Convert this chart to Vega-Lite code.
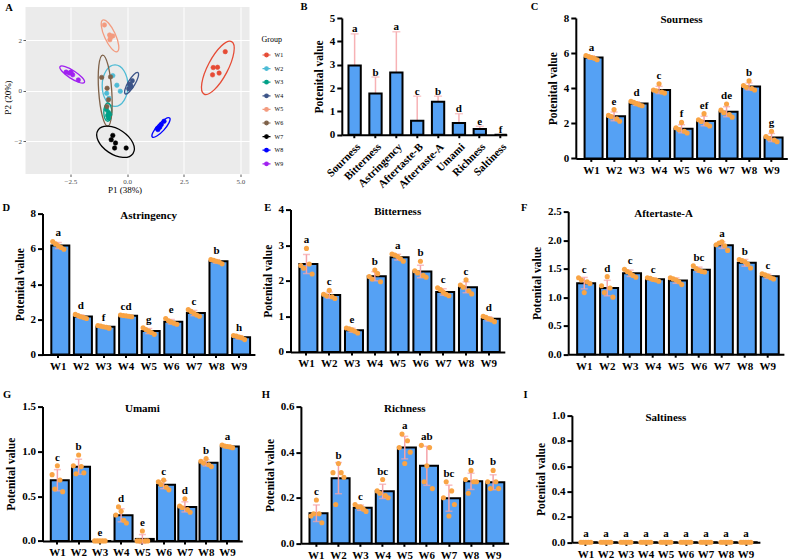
{
  "$schema": "https://vega.github.io/schema/vega-lite/v6.json",
  "background": "white",
  "padding": {"left": 1.5, "top": 1, "right": 0, "bottom": 0},
  "config": {
    "font": "Liberation Serif",
    "view": {"stroke": null},
    "axis": {"domainColor": "#000", "domainWidth": 2, "tickColor": "#000", "tickWidth": 2, "tickSize": 5, "labelColor": "#000", "labelFontSize": 11, "labelFontWeight": "bold", "titleColor": "#000", "titleFontSize": 11.5, "titleFontWeight": "bold", "grid": false, "labelPadding": 2, "titlePadding": 5, "labelOverlap": false},
    "axisX": {"tickSize": 3, "labelAngle": 0, "labelPadding": 3},
    "title": {"anchor": "start", "frame": "group", "fontSize": 10.5, "fontWeight": "bold", "color": "#000", "font": "Liberation Serif"},
    "text": {"font": "Liberation Serif", "color": "#000"}
  },
  "datasets": {
    "pca": [
      {"g": "W1", "x": 4.33, "y": 1.55}, {"g": "W1", "x": 3.80, "y": 0.92}, {"g": "W1", "x": 3.99, "y": 0.93}, {"g": "W1", "x": 3.77, "y": 0.63}, {"g": "W1", "x": 4.06, "y": 0.70},
      {"g": "W2", "x": -0.63, "y": 0.60}, {"g": "W2", "x": -0.45, "y": 0.22}, {"g": "W2", "x": -0.30, "y": -0.02}, {"g": "W2", "x": -0.90, "y": -0.10}, {"g": "W2", "x": -0.80, "y": -0.30},
      {"g": "W3", "x": -0.91, "y": -0.74}, {"g": "W3", "x": -0.82, "y": -0.86}, {"g": "W3", "x": -0.86, "y": -0.98}, {"g": "W3", "x": -0.77, "y": -0.94}, {"g": "W3", "x": -0.82, "y": -1.09},
      {"g": "W4", "x": 0.07, "y": 0.08}, {"g": "W4", "x": 0.15, "y": 0.24}, {"g": "W4", "x": 0.23, "y": 0.40}, {"g": "W4", "x": 0.11, "y": 0.26}, {"g": "W4", "x": 0.18, "y": 0.16},
      {"g": "W5", "x": -1.00, "y": 2.61}, {"g": "W5", "x": -0.77, "y": 2.21}, {"g": "W5", "x": -0.63, "y": 2.17}, {"g": "W5", "x": -0.76, "y": 2.02}, {"g": "W5", "x": -0.73, "y": 2.11},
      {"g": "W6", "x": -1.12, "y": 0.53}, {"g": "W6", "x": -0.73, "y": 0.55}, {"g": "W6", "x": -0.88, "y": 0.10}, {"g": "W6", "x": -0.82, "y": -0.36}, {"g": "W6", "x": -0.89, "y": -0.62},
      {"g": "W7", "x": -0.63, "y": -1.77}, {"g": "W7", "x": -0.70, "y": -1.94}, {"g": "W7", "x": -0.51, "y": -2.07}, {"g": "W7", "x": -0.55, "y": -2.27}, {"g": "W7", "x": -0.04, "y": -2.27},
      {"g": "W8", "x": 1.36, "y": -1.54}, {"g": "W8", "x": 1.44, "y": -1.45}, {"g": "W8", "x": 1.51, "y": -1.34}, {"g": "W8", "x": 1.63, "y": -1.21}, {"g": "W8", "x": 1.34, "y": -1.50},
      {"g": "W9", "x": -2.69, "y": 0.74}, {"g": "W9", "x": -2.47, "y": 0.74}, {"g": "W9", "x": -2.40, "y": 0.63}, {"g": "W9", "x": -2.15, "y": 0.43}, {"g": "W9", "x": -2.55, "y": 0.70}
    ],
    "ell": [
      {"g": "W1", "i": 0, "x": 4.611, "y": 1.950}, {"g": "W1", "i": 1, "x": 4.156, "y": 1.774}, {"g": "W1", "i": 2, "x": 3.612, "y": 1.092}, {"g": "W1", "i": 3, "x": 3.298, "y": 0.302}, {"g": "W1", "i": 4, "x": 3.397, "y": -0.132}, {"g": "W1", "i": 5, "x": 3.852, "y": 0.044}, {"g": "W1", "i": 6, "x": 4.396, "y": 0.727}, {"g": "W1", "i": 7, "x": 4.710, "y": 1.516},
      {"g": "W2", "i": 0, "x": 0.035, "y": 0.202}, {"g": "W2", "i": 1, "x": -0.131, "y": 0.783}, {"g": "W2", "i": 2, "x": -0.531, "y": 1.024}, {"g": "W2", "i": 3, "x": -0.931, "y": 0.783}, {"g": "W2", "i": 4, "x": -1.097, "y": 0.202}, {"g": "W2", "i": 5, "x": -0.931, "y": -0.379}, {"g": "W2", "i": 6, "x": -0.531, "y": -0.620}, {"g": "W2", "i": 7, "x": -0.131, "y": -0.379},
      {"g": "W3", "i": 0, "x": -0.673, "y": -0.850}, {"g": "W3", "i": 1, "x": -0.725, "y": -0.593}, {"g": "W3", "i": 2, "x": -0.850, "y": -0.486}, {"g": "W3", "i": 3, "x": -0.975, "y": -0.593}, {"g": "W3", "i": 4, "x": -1.027, "y": -0.850}, {"g": "W3", "i": 5, "x": -0.975, "y": -1.107}, {"g": "W3", "i": 6, "x": -0.850, "y": -1.214}, {"g": "W3", "i": 7, "x": -0.725, "y": -1.107},
      {"g": "W4", "i": 0, "x": 0.478, "y": 0.722}, {"g": "W4", "i": 1, "x": 0.302, "y": 0.648}, {"g": "W4", "i": 2, "x": 0.066, "y": 0.370}, {"g": "W4", "i": 3, "x": -0.092, "y": 0.051}, {"g": "W4", "i": 4, "x": -0.080, "y": -0.122}, {"g": "W4", "i": 5, "x": 0.096, "y": -0.048}, {"g": "W4", "i": 6, "x": 0.332, "y": 0.230}, {"g": "W4", "i": 7, "x": 0.490, "y": 0.549},
      {"g": "W5", "i": 0, "x": -1.070, "y": 2.805}, {"g": "W5", "i": 1, "x": -1.134, "y": 2.558}, {"g": "W5", "i": 2, "x": -0.974, "y": 2.088}, {"g": "W5", "i": 3, "x": -0.684, "y": 1.671}, {"g": "W5", "i": 4, "x": -0.434, "y": 1.551}, {"g": "W5", "i": 5, "x": -0.370, "y": 1.798}, {"g": "W5", "i": 6, "x": -0.530, "y": 2.268}, {"g": "W5", "i": 7, "x": -0.820, "y": 2.685},
      {"g": "W6", "i": 0, "x": -1.076, "y": 1.416}, {"g": "W6", "i": 1, "x": -1.246, "y": 0.990}, {"g": "W6", "i": 2, "x": -1.252, "y": -0.014}, {"g": "W6", "i": 3, "x": -1.090, "y": -1.007}, {"g": "W6", "i": 4, "x": -0.854, "y": -1.408}, {"g": "W6", "i": 5, "x": -0.684, "y": -0.982}, {"g": "W6", "i": 6, "x": -0.678, "y": 0.022}, {"g": "W6", "i": 7, "x": -0.840, "y": 1.015},
      {"g": "W7", "i": 0, "x": 0.261, "y": -2.488}, {"g": "W7", "i": 1, "x": 0.254, "y": -2.062}, {"g": "W7", "i": 2, "x": -0.200, "y": -1.614}, {"g": "W7", "i": 3, "x": -0.835, "y": -1.406}, {"g": "W7", "i": 4, "x": -1.279, "y": -1.560}, {"g": "W7", "i": 5, "x": -1.272, "y": -1.986}, {"g": "W7", "i": 6, "x": -0.818, "y": -2.434}, {"g": "W7", "i": 7, "x": -0.183, "y": -2.642},
      {"g": "W8", "i": 0, "x": 1.879, "y": -1.082}, {"g": "W8", "i": 1, "x": 1.679, "y": -1.121}, {"g": "W8", "i": 2, "x": 1.372, "y": -1.357}, {"g": "W8", "i": 3, "x": 1.138, "y": -1.652}, {"g": "W8", "i": 4, "x": 1.113, "y": -1.834}, {"g": "W8", "i": 5, "x": 1.313, "y": -1.795}, {"g": "W8", "i": 6, "x": 1.620, "y": -1.559}, {"g": "W8", "i": 7, "x": 1.854, "y": -1.264},
      {"g": "W9", "i": 0, "x": -1.882, "y": 0.328}, {"g": "W9", "i": 1, "x": -1.971, "y": 0.514}, {"g": "W9", "i": 2, "x": -2.323, "y": 0.776}, {"g": "W9", "i": 3, "x": -2.732, "y": 0.961}, {"g": "W9", "i": 4, "x": -2.958, "y": 0.960}, {"g": "W9", "i": 5, "x": -2.869, "y": 0.774}, {"g": "W9", "i": 6, "x": -2.517, "y": 0.512}, {"g": "W9", "i": 7, "x": -2.108, "y": 0.327}
    ],
    "attrs": [
      {"a": "Sourness", "m": 2.97, "hi": 4.32, "l": "a"},
      {"a": "Bitterness", "m": 1.77, "hi": 2.47, "l": "b"},
      {"a": "Astringency", "m": 2.66, "hi": 4.41, "l": "a"},
      {"a": "Aftertaste-B", "m": 0.60, "hi": 1.65, "l": "c"},
      {"a": "Aftertaste-A", "m": 1.41, "hi": 1.65, "l": "b"},
      {"a": "Umami", "m": 0.50, "hi": 0.90, "l": "d"},
      {"a": "Richness", "m": 0.24, "hi": 0.36, "l": "e"},
      {"a": "Saltiness", "m": 0, "hi": 0, "l": "f"}
    ],
    "dC": [
      {"g": "W1", "r": 1, "v": 5.86}, {"g": "W1", "r": 2, "v": 5.80}, {"g": "W1", "r": 3, "v": 5.75}, {"g": "W1", "r": 4, "v": 5.70}, {"g": "W1", "r": 5, "v": 5.62},
      {"g": "W2", "r": 1, "v": 2.45}, {"g": "W2", "r": 2, "v": 2.38}, {"g": "W2", "r": 3, "v": 2.78}, {"g": "W2", "r": 4, "v": 2.25}, {"g": "W2", "r": 5, "v": 2.12},
      {"g": "W3", "r": 1, "v": 3.25}, {"g": "W3", "r": 2, "v": 3.20}, {"g": "W3", "r": 3, "v": 3.12}, {"g": "W3", "r": 4, "v": 3.05}, {"g": "W3", "r": 5, "v": 3.00},
      {"g": "W4", "r": 1, "v": 3.90}, {"g": "W4", "r": 2, "v": 3.85}, {"g": "W4", "r": 3, "v": 4.25}, {"g": "W4", "r": 4, "v": 3.78}, {"g": "W4", "r": 5, "v": 3.72},
      {"g": "W5", "r": 1, "v": 1.75}, {"g": "W5", "r": 2, "v": 1.65}, {"g": "W5", "r": 3, "v": 2.05}, {"g": "W5", "r": 4, "v": 1.55}, {"g": "W5", "r": 5, "v": 1.45},
      {"g": "W6", "r": 1, "v": 2.20}, {"g": "W6", "r": 2, "v": 2.10}, {"g": "W6", "r": 3, "v": 2.55}, {"g": "W6", "r": 4, "v": 1.95}, {"g": "W6", "r": 5, "v": 1.85},
      {"g": "W7", "r": 1, "v": 2.75}, {"g": "W7", "r": 2, "v": 2.60}, {"g": "W7", "r": 3, "v": 3.10}, {"g": "W7", "r": 4, "v": 2.50}, {"g": "W7", "r": 5, "v": 2.35},
      {"g": "W8", "r": 1, "v": 4.15}, {"g": "W8", "r": 2, "v": 4.05}, {"g": "W8", "r": 3, "v": 4.42}, {"g": "W8", "r": 4, "v": 3.98}, {"g": "W8", "r": 5, "v": 3.90},
      {"g": "W9", "r": 1, "v": 1.25}, {"g": "W9", "r": 2, "v": 1.15}, {"g": "W9", "r": 3, "v": 1.55}, {"g": "W9", "r": 4, "v": 1.05}, {"g": "W9", "r": 5, "v": 0.95}
    ],
    "lC": [{"g": "W1", "l": "a"}, {"g": "W2", "l": "e"}, {"g": "W3", "l": "d"}, {"g": "W4", "l": "c"}, {"g": "W5", "l": "f"}, {"g": "W6", "l": "ef"}, {"g": "W7", "l": "de"}, {"g": "W8", "l": "b"}, {"g": "W9", "l": "g"}],
    "dD": [
      {"g": "W1", "r": 1, "v": 6.42}, {"g": "W1", "r": 2, "v": 6.28}, {"g": "W1", "r": 3, "v": 6.18}, {"g": "W1", "r": 4, "v": 6.08}, {"g": "W1", "r": 5, "v": 5.98},
      {"g": "W2", "r": 1, "v": 2.28}, {"g": "W2", "r": 2, "v": 2.22}, {"g": "W2", "r": 3, "v": 2.15}, {"g": "W2", "r": 4, "v": 2.10}, {"g": "W2", "r": 5, "v": 2.05},
      {"g": "W3", "r": 1, "v": 1.65}, {"g": "W3", "r": 2, "v": 1.62}, {"g": "W3", "r": 3, "v": 1.58}, {"g": "W3", "r": 4, "v": 1.55}, {"g": "W3", "r": 5, "v": 1.50},
      {"g": "W4", "r": 1, "v": 2.25}, {"g": "W4", "r": 2, "v": 2.22}, {"g": "W4", "r": 3, "v": 2.20}, {"g": "W4", "r": 4, "v": 2.18}, {"g": "W4", "r": 5, "v": 2.15},
      {"g": "W5", "r": 1, "v": 1.52}, {"g": "W5", "r": 2, "v": 1.42}, {"g": "W5", "r": 3, "v": 1.33}, {"g": "W5", "r": 4, "v": 1.25}, {"g": "W5", "r": 5, "v": 1.15},
      {"g": "W6", "r": 1, "v": 2.05}, {"g": "W6", "r": 2, "v": 1.92}, {"g": "W6", "r": 3, "v": 1.85}, {"g": "W6", "r": 4, "v": 1.78}, {"g": "W6", "r": 5, "v": 1.72},
      {"g": "W7", "r": 1, "v": 2.55}, {"g": "W7", "r": 2, "v": 2.45}, {"g": "W7", "r": 3, "v": 2.35}, {"g": "W7", "r": 4, "v": 2.25}, {"g": "W7", "r": 5, "v": 2.18},
      {"g": "W8", "r": 1, "v": 5.40}, {"g": "W8", "r": 2, "v": 5.35}, {"g": "W8", "r": 3, "v": 5.30}, {"g": "W8", "r": 4, "v": 5.25}, {"g": "W8", "r": 5, "v": 5.15},
      {"g": "W9", "r": 1, "v": 1.08}, {"g": "W9", "r": 2, "v": 1.05}, {"g": "W9", "r": 3, "v": 1.00}, {"g": "W9", "r": 4, "v": 0.95}, {"g": "W9", "r": 5, "v": 0.85}
    ],
    "lD": [{"g": "W1", "l": "a"}, {"g": "W2", "l": "d"}, {"g": "W3", "l": "f"}, {"g": "W4", "l": "cd"}, {"g": "W5", "l": "g"}, {"g": "W6", "l": "e"}, {"g": "W7", "l": "c"}, {"g": "W8", "l": "b"}, {"g": "W9", "l": "h"}],
    "dE": [
      {"g": "W1", "r": 1, "v": 2.43}, {"g": "W1", "r": 2, "v": 2.35}, {"g": "W1", "r": 3, "v": 2.91}, {"g": "W1", "r": 4, "v": 2.47}, {"g": "W1", "r": 5, "v": 2.19},
      {"g": "W2", "r": 1, "v": 1.62}, {"g": "W2", "r": 2, "v": 1.58}, {"g": "W2", "r": 3, "v": 1.73}, {"g": "W2", "r": 4, "v": 1.55}, {"g": "W2", "r": 5, "v": 1.50},
      {"g": "W3", "r": 1, "v": 0.67}, {"g": "W3", "r": 2, "v": 0.65}, {"g": "W3", "r": 3, "v": 0.62}, {"g": "W3", "r": 4, "v": 0.58}, {"g": "W3", "r": 5, "v": 0.53},
      {"g": "W4", "r": 1, "v": 2.12}, {"g": "W4", "r": 2, "v": 2.05}, {"g": "W4", "r": 3, "v": 2.30}, {"g": "W4", "r": 4, "v": 2.20}, {"g": "W4", "r": 5, "v": 1.97},
      {"g": "W5", "r": 1, "v": 2.75}, {"g": "W5", "r": 2, "v": 2.72}, {"g": "W5", "r": 3, "v": 2.68}, {"g": "W5", "r": 4, "v": 2.62}, {"g": "W5", "r": 5, "v": 2.55},
      {"g": "W6", "r": 1, "v": 2.28}, {"g": "W6", "r": 2, "v": 2.22}, {"g": "W6", "r": 3, "v": 2.55}, {"g": "W6", "r": 4, "v": 2.15}, {"g": "W6", "r": 5, "v": 2.10},
      {"g": "W7", "r": 1, "v": 1.80}, {"g": "W7", "r": 2, "v": 1.75}, {"g": "W7", "r": 3, "v": 1.68}, {"g": "W7", "r": 4, "v": 1.62}, {"g": "W7", "r": 5, "v": 1.58},
      {"g": "W8", "r": 1, "v": 1.88}, {"g": "W8", "r": 2, "v": 1.82}, {"g": "W8", "r": 3, "v": 2.03}, {"g": "W8", "r": 4, "v": 1.72}, {"g": "W8", "r": 5, "v": 1.63},
      {"g": "W9", "r": 1, "v": 1.00}, {"g": "W9", "r": 2, "v": 0.97}, {"g": "W9", "r": 3, "v": 0.93}, {"g": "W9", "r": 4, "v": 0.90}, {"g": "W9", "r": 5, "v": 0.85}
    ],
    "lE": [{"g": "W1", "l": "a"}, {"g": "W2", "l": "c"}, {"g": "W3", "l": "e"}, {"g": "W4", "l": "b"}, {"g": "W5", "l": "a"}, {"g": "W6", "l": "b"}, {"g": "W7", "l": "c"}, {"g": "W8", "l": "c"}, {"g": "W9", "l": "d"}],
    "dF": [
      {"g": "W1", "r": 1, "v": 1.34}, {"g": "W1", "r": 2, "v": 1.30}, {"g": "W1", "r": 3, "v": 1.08}, {"g": "W1", "r": 4, "v": 1.27}, {"g": "W1", "r": 5, "v": 1.24},
      {"g": "W2", "r": 1, "v": 1.20}, {"g": "W2", "r": 2, "v": 1.08}, {"g": "W2", "r": 3, "v": 1.36}, {"g": "W2", "r": 4, "v": 1.16}, {"g": "W2", "r": 5, "v": 1.00},
      {"g": "W3", "r": 1, "v": 1.49}, {"g": "W3", "r": 2, "v": 1.45}, {"g": "W3", "r": 3, "v": 1.42}, {"g": "W3", "r": 4, "v": 1.38}, {"g": "W3", "r": 5, "v": 1.35},
      {"g": "W4", "r": 1, "v": 1.34}, {"g": "W4", "r": 2, "v": 1.33}, {"g": "W4", "r": 3, "v": 1.31}, {"g": "W4", "r": 4, "v": 1.30}, {"g": "W4", "r": 5, "v": 1.28},
      {"g": "W5", "r": 1, "v": 1.34}, {"g": "W5", "r": 2, "v": 1.32}, {"g": "W5", "r": 3, "v": 1.30}, {"g": "W5", "r": 4, "v": 1.27}, {"g": "W5", "r": 5, "v": 1.22},
      {"g": "W6", "r": 1, "v": 1.55}, {"g": "W6", "r": 2, "v": 1.50}, {"g": "W6", "r": 3, "v": 1.47}, {"g": "W6", "r": 4, "v": 1.45}, {"g": "W6", "r": 5, "v": 1.44},
      {"g": "W7", "r": 1, "v": 1.92}, {"g": "W7", "r": 2, "v": 1.95}, {"g": "W7", "r": 3, "v": 1.97}, {"g": "W7", "r": 4, "v": 1.90}, {"g": "W7", "r": 5, "v": 1.82},
      {"g": "W8", "r": 1, "v": 1.66}, {"g": "W8", "r": 2, "v": 1.64}, {"g": "W8", "r": 3, "v": 1.62}, {"g": "W8", "r": 4, "v": 1.58}, {"g": "W8", "r": 5, "v": 1.51},
      {"g": "W9", "r": 1, "v": 1.41}, {"g": "W9", "r": 2, "v": 1.39}, {"g": "W9", "r": 3, "v": 1.37}, {"g": "W9", "r": 4, "v": 1.34}, {"g": "W9", "r": 5, "v": 1.32}
    ],
    "lF": [{"g": "W1", "l": "c"}, {"g": "W2", "l": "d"}, {"g": "W3", "l": "c"}, {"g": "W4", "l": "c"}, {"g": "W5", "l": ""}, {"g": "W6", "l": "bc"}, {"g": "W7", "l": "a"}, {"g": "W8", "l": "b"}, {"g": "W9", "l": "c"}],
    "dG": [
      {"g": "W1", "r": 1, "v": 0.74}, {"g": "W1", "r": 2, "v": 0.58}, {"g": "W1", "r": 3, "v": 0.84}, {"g": "W1", "r": 4, "v": 0.68}, {"g": "W1", "r": 5, "v": 0.55},
      {"g": "W2", "r": 1, "v": 0.84}, {"g": "W2", "r": 2, "v": 0.75}, {"g": "W2", "r": 3, "v": 0.96}, {"g": "W2", "r": 4, "v": 0.83}, {"g": "W2", "r": 5, "v": 0.76},
      {"g": "W3", "r": 1, "v": 0}, {"g": "W3", "r": 2, "v": 0}, {"g": "W3", "r": 3, "v": 0}, {"g": "W3", "r": 4, "v": 0}, {"g": "W3", "r": 5, "v": 0},
      {"g": "W4", "r": 1, "v": 0.29}, {"g": "W4", "r": 2, "v": 0.38}, {"g": "W4", "r": 3, "v": 0.33}, {"g": "W4", "r": 4, "v": 0.23}, {"g": "W4", "r": 5, "v": 0.20},
      {"g": "W5", "r": 1, "v": 0}, {"g": "W5", "r": 2, "v": 0}, {"g": "W5", "r": 3, "v": 0.11}, {"g": "W5", "r": 4, "v": 0}, {"g": "W5", "r": 5, "v": 0},
      {"g": "W6", "r": 1, "v": 0.66}, {"g": "W6", "r": 2, "v": 0.63}, {"g": "W6", "r": 3, "v": 0.68}, {"g": "W6", "r": 4, "v": 0.60}, {"g": "W6", "r": 5, "v": 0.57},
      {"g": "W7", "r": 1, "v": 0.39}, {"g": "W7", "r": 2, "v": 0.37}, {"g": "W7", "r": 3, "v": 0.47}, {"g": "W7", "r": 4, "v": 0.35}, {"g": "W7", "r": 5, "v": 0.32},
      {"g": "W8", "r": 1, "v": 0.89}, {"g": "W8", "r": 2, "v": 0.87}, {"g": "W8", "r": 3, "v": 0.92}, {"g": "W8", "r": 4, "v": 0.85}, {"g": "W8", "r": 5, "v": 0.83},
      {"g": "W9", "r": 1, "v": 1.07}, {"g": "W9", "r": 2, "v": 1.06}, {"g": "W9", "r": 3, "v": 1.055}, {"g": "W9", "r": 4, "v": 1.05}, {"g": "W9", "r": 5, "v": 1.04}
    ],
    "lG": [{"g": "W1", "l": "c"}, {"g": "W2", "l": "b"}, {"g": "W3", "l": "e"}, {"g": "W4", "l": "d"}, {"g": "W5", "l": "e"}, {"g": "W6", "l": "c"}, {"g": "W7", "l": "d"}, {"g": "W8", "l": "b"}, {"g": "W9", "l": "a"}],
    "dH": [
      {"g": "W1", "r": 1, "v": 0.12}, {"g": "W1", "r": 2, "v": 0.13}, {"g": "W1", "r": 3, "v": 0.19}, {"g": "W1", "r": 4, "v": 0.13}, {"g": "W1", "r": 5, "v": 0.09},
      {"g": "W2", "r": 1, "v": 0.31}, {"g": "W2", "r": 2, "v": 0.17}, {"g": "W2", "r": 3, "v": 0.35}, {"g": "W2", "r": 4, "v": 0.31}, {"g": "W2", "r": 5, "v": 0.29},
      {"g": "W3", "r": 1, "v": 0.17}, {"g": "W3", "r": 2, "v": 0.16}, {"g": "W3", "r": 3, "v": 0.16}, {"g": "W3", "r": 4, "v": 0.15}, {"g": "W3", "r": 5, "v": 0.14},
      {"g": "W4", "r": 1, "v": 0.23}, {"g": "W4", "r": 2, "v": 0.22}, {"g": "W4", "r": 3, "v": 0.28}, {"g": "W4", "r": 4, "v": 0.21}, {"g": "W4", "r": 5, "v": 0.20},
      {"g": "W5", "r": 1, "v": 0.42}, {"g": "W5", "r": 2, "v": 0.48}, {"g": "W5", "r": 3, "v": 0.35}, {"g": "W5", "r": 4, "v": 0.45}, {"g": "W5", "r": 5, "v": 0.40},
      {"g": "W6", "r": 1, "v": 0.43}, {"g": "W6", "r": 2, "v": 0.27}, {"g": "W6", "r": 3, "v": 0.34}, {"g": "W6", "r": 4, "v": 0.42}, {"g": "W6", "r": 5, "v": 0.24},
      {"g": "W7", "r": 1, "v": 0.20}, {"g": "W7", "r": 2, "v": 0.27}, {"g": "W7", "r": 3, "v": 0.12}, {"g": "W7", "r": 4, "v": 0.23}, {"g": "W7", "r": 5, "v": 0.17},
      {"g": "W8", "r": 1, "v": 0.28}, {"g": "W8", "r": 2, "v": 0.22}, {"g": "W8", "r": 3, "v": 0.32}, {"g": "W8", "r": 4, "v": 0.27}, {"g": "W8", "r": 5, "v": 0.27},
      {"g": "W9", "r": 1, "v": 0.27}, {"g": "W9", "r": 2, "v": 0.24}, {"g": "W9", "r": 3, "v": 0.32}, {"g": "W9", "r": 4, "v": 0.27}, {"g": "W9", "r": 5, "v": 0.24}
    ],
    "lH": [{"g": "W1", "l": "c"}, {"g": "W2", "l": "b"}, {"g": "W3", "l": "c"}, {"g": "W4", "l": "bc"}, {"g": "W5", "l": "a"}, {"g": "W6", "l": "ab"}, {"g": "W7", "l": "bc"}, {"g": "W8", "l": "b"}, {"g": "W9", "l": "b"}],
    "dI": [
      {"g": "W1", "r": 1, "v": 0}, {"g": "W1", "r": 2, "v": 0}, {"g": "W1", "r": 3, "v": 0}, {"g": "W1", "r": 4, "v": 0}, {"g": "W1", "r": 5, "v": 0},
      {"g": "W2", "r": 1, "v": 0}, {"g": "W2", "r": 2, "v": 0}, {"g": "W2", "r": 3, "v": 0}, {"g": "W2", "r": 4, "v": 0}, {"g": "W2", "r": 5, "v": 0},
      {"g": "W3", "r": 1, "v": 0}, {"g": "W3", "r": 2, "v": 0}, {"g": "W3", "r": 3, "v": 0}, {"g": "W3", "r": 4, "v": 0}, {"g": "W3", "r": 5, "v": 0},
      {"g": "W4", "r": 1, "v": 0}, {"g": "W4", "r": 2, "v": 0}, {"g": "W4", "r": 3, "v": 0}, {"g": "W4", "r": 4, "v": 0}, {"g": "W4", "r": 5, "v": 0},
      {"g": "W5", "r": 1, "v": 0}, {"g": "W5", "r": 2, "v": 0}, {"g": "W5", "r": 3, "v": 0}, {"g": "W5", "r": 4, "v": 0}, {"g": "W5", "r": 5, "v": 0},
      {"g": "W6", "r": 1, "v": 0}, {"g": "W6", "r": 2, "v": 0}, {"g": "W6", "r": 3, "v": 0}, {"g": "W6", "r": 4, "v": 0}, {"g": "W6", "r": 5, "v": 0},
      {"g": "W7", "r": 1, "v": 0}, {"g": "W7", "r": 2, "v": 0}, {"g": "W7", "r": 3, "v": 0}, {"g": "W7", "r": 4, "v": 0}, {"g": "W7", "r": 5, "v": 0},
      {"g": "W8", "r": 1, "v": 0}, {"g": "W8", "r": 2, "v": 0}, {"g": "W8", "r": 3, "v": 0}, {"g": "W8", "r": 4, "v": 0}, {"g": "W8", "r": 5, "v": 0},
      {"g": "W9", "r": 1, "v": 0}, {"g": "W9", "r": 2, "v": 0}, {"g": "W9", "r": 3, "v": 0}, {"g": "W9", "r": 4, "v": 0}, {"g": "W9", "r": 5, "v": 0}
    ],
    "lI": [{"g": "W1", "l": "a"}, {"g": "W2", "l": "a"}, {"g": "W3", "l": "a"}, {"g": "W4", "l": "a"}, {"g": "W5", "l": "a"}, {"g": "W6", "l": "a"}, {"g": "W7", "l": "a"}, {"g": "W8", "l": "a"}, {"g": "W9", "l": "a"}]
  },
  "spacing": 6.6,
  "resolve": {"scale": {"x": "independent", "y": "independent", "xOffset": "independent", "fill": "independent", "stroke": "independent"}, "legend": {"fill": "independent", "stroke": "independent"}},
  "vconcat": [
    {
      "spacing": 0,
      "resolve": {"legend": {"fill": "independent", "stroke": "independent"}},
      "hconcat": [
        {"width": 0.01, "height": 0.01, "data": {"values": []}, "mark": "point"},
        {
          "spacing": 16.3,
          "resolve": {"legend": {"fill": "independent", "stroke": "independent"}},
          "hconcat": [
            {
              "spacing": 0,
              "resolve": {"legend": {"fill": "independent", "stroke": "independent"}},
              "vconcat": [
                {"width": 0.01, "height": 0.01, "data": {"values": []}, "mark": "point"},
                {
                  "title": {"text": "A", "dx": -20.3, "offset": -6.3},
                  "width": 224, "height": 167,
                  "view": {"fill": "#EBEBEB", "stroke": null},
                  "encoding": {
                    "x": {"field": "x", "type": "quantitative", "scale": {"domain": [-4.48, 5.4], "nice": false, "zero": false},
                          "axis": {"title": "P1 (38%)", "titleX": 99, "values": [-2.5, 0, 2.5, 5], "format": ".1f", "domain": false, "tickColor": "#333333", "tickWidth": 0.8, "tickSize": 2.5, "labelColor": "#4D4D4D", "labelFontSize": 7, "labelFontWeight": "normal", "labelPadding": 0.5, "titleFontSize": 9, "titleFontWeight": "normal", "titlePadding": 1.5, "grid": true, "gridColor": "#FFFFFF", "gridWidth": 1}},
                    "y": {"field": "y", "type": "quantitative", "scale": {"domain": [-3.3, 3.32], "nice": false, "zero": false},
                          "axis": {"title": "P2 (20%)", "titleY": 90, "values": [-2, 0, 2], "format": "d", "domain": false, "tickColor": "#333333", "tickWidth": 0.8, "tickSize": 2.5, "labelColor": "#4D4D4D", "labelFontSize": 7, "labelFontWeight": "normal", "labelPadding": 1.5, "titleFontSize": 9, "titleFontWeight": "normal", "titlePadding": 2, "grid": true, "gridColor": "#FFFFFF", "gridWidth": 1}}
                  },
                  "layer": [
                    {"data": {"values": [{}]}, "mark": {"type": "rule", "color": "#000", "strokeWidth": 1.3, "strokeDash": [1.2, 2.6]}, "encoding": {"x": {"datum": 0}, "y": null}},
                    {"data": {"values": [{}]}, "mark": {"type": "rule", "color": "#000", "strokeWidth": 1.3, "strokeDash": [1.2, 2.6]}, "encoding": {"y": {"datum": 0}, "x": null}},
                    {"data": {"name": "ell"}, "mark": {"type": "line", "interpolate": "cardinal-closed", "strokeWidth": 1.3},
                     "encoding": {
                       "stroke": {"field": "g", "type": "nominal", "scale": {"domain": ["W1","W2","W3","W4","W5","W6","W7","W8","W9"], "range": ["#E64B35","#4DBBD5","#00A087","#3C5488","#F39B7F","#7E6148","#000000","#0000FF","#A020F0"]},
                                  "legend": {"orient": "none", "legendX": 236, "legendY": 29, "title": "Group", "titleFontSize": 8, "titleFontWeight": "normal", "titleFont": "Liberation Serif", "labelFontSize": 6, "labelFont": "Liberation Serif", "symbolType": "M-1,0L1,0M-0.45,0A0.45,0.45,0,1,0,0.45,0A0.45,0.45,0,1,0,-0.45,0Z", "symbolSize": 64, "symbolStrokeWidth": 1.2, "rowPadding": 3.6, "titlePadding": 6, "labelOffset": 3}},
                       "order": {"field": "i", "type": "quantitative"}
                     }},
                    {"data": {"name": "pca"}, "mark": {"type": "point", "filled": true, "size": 20, "opacity": 1, "strokeWidth": 0.6},
                     "encoding": {
                       "fill": {"field": "g", "type": "nominal", "scale": {"domain": ["W1","W2","W3","W4","W5","W6","W7","W8","W9"], "range": ["#E64B35","#4DBBD5","#00A087","#3C5488","#F39B7F","#7E6148","#000000","#0000FF","#A020F0"]},
                                "legend": {"orient": "none", "legendX": 236, "legendY": 29, "title": "Group", "titleFontSize": 8, "titleFontWeight": "normal", "titleFont": "Liberation Serif", "labelFontSize": 6, "labelFont": "Liberation Serif", "symbolType": "M-1,0L1,0M-0.45,0A0.45,0.45,0,1,0,0.45,0A0.45,0.45,0,1,0,-0.45,0Z", "symbolSize": 64, "symbolStrokeWidth": 1.2, "rowPadding": 3.6, "titlePadding": 6, "labelOffset": 3}},
                       "stroke": {"field": "g", "type": "nominal"}
                     }}
                  ]
                }
              ]
            },
            {
              "spacing": 22,
              "resolve": {"scale": {"x": "independent", "y": "independent", "xOffset": "independent"}},
              "hconcat": [
                {
                  "spacing": 0,
                  "vconcat": [
                    {"width": 0.01, "height": 0.01, "data": {"values": []}, "mark": "point"},
                    {
                      "title": {"text": "B", "dx": -41.3, "offset": -0.9},
                      "width": 165, "height": 116.7,
                      "data": {"name": "attrs"},
                      "encoding": {"x": {"field": "a", "type": "nominal", "sort": null, "title": null, "scale": {"paddingInner": 0.41, "paddingOuter": 0.16, "align": 1}, "axis": {"labelAngle": -45}}},
                      "layer": [
                        {"mark": {"type": "rule", "color": "#F7B2B5", "strokeWidth": 1.5}, "encoding": {"y": {"field": "m", "type": "quantitative", "title": "Potenital value", "scale": {"domain": [0, 5], "nice": false}, "axis": {"values": [0, 1, 2, 3, 4, 5], "format": "d"}}, "y2": {"field": "hi"}}},
                        {"mark": {"type": "tick", "color": "#F7B2B5", "thickness": 1.5, "size": 8}, "encoding": {"y": {"field": "hi", "type": "quantitative", "title": "Potenital value", "axis": {"values": [0, 1, 2, 3, 4, 5], "format": "d"}}}},
                        {"mark": {"type": "bar", "fill": "#55A1F4", "stroke": "#000", "strokeWidth": 2}, "encoding": {"y": {"field": "m", "type": "quantitative", "title": "Potenital value", "axis": {"values": [0, 1, 2, 3, 4, 5], "format": "d"}}}},
                        {"mark": {"type": "text", "fontSize": 11, "fontWeight": "bold", "baseline": "alphabetic", "dy": -1.5}, "encoding": {"y": {"field": "hi", "type": "quantitative", "title": "Potenital value", "axis": {"values": [0, 1, 2, 3, 4, 5], "format": "d"}}, "text": {"field": "l", "type": "nominal"}}}
                      ]
                    }
                  ]
                },
                {
                  "spacing": 0,
                  "vconcat": [
                    {"width": 0.01, "height": 0.01, "data": {"values": []}, "mark": "point"},
                    {
                      "title": {"text": "C", "dx": -45, "offset": -0.9},
                      "width": 211.5, "height": 140.4,
                      "data": {"name": "dC"},
                      "encoding": {"x": {"field": "g", "type": "nominal", "title": null, "scale": {"paddingInner": 0.38, "paddingOuter": 0.39}}},
                      "layer": [
                        {"mark": {"type": "bar", "fill": "#55A1F4", "stroke": "#000", "strokeWidth": 2}, "encoding": {"y": {"aggregate": "mean", "field": "v", "type": "quantitative", "title": "Potenital value", "scale": {"domain": [0, 8], "nice": false}, "axis": {"values": [0, 2, 4, 6, 8], "format": "d"}}}},
                        {"mark": {"type": "errorbar", "extent": "stdev", "color": "#F5A3A8", "thickness": 1.5, "ticks": {"size": 7}}, "encoding": {"y": {"field": "v", "type": "quantitative", "title": "Potenital value", "axis": {"values": [0, 2, 4, 6, 8], "format": "d"}}}},
                        {"mark": {"type": "point", "filled": true, "size": 26, "color": "#F9A445", "opacity": 1}, "encoding": {"xOffset": {"field": "r", "type": "nominal"}, "y": {"field": "v", "type": "quantitative", "title": "Potenital value", "axis": {"values": [0, 2, 4, 6, 8], "format": "d"}}}},
                        {"transform": [{"aggregate": [{"op": "max", "field": "v", "as": "top"}], "groupby": ["g"]}, {"lookup": "g", "from": {"data": {"name": "lC"}, "key": "g", "fields": ["l"]}}],
                         "mark": {"type": "text", "fontSize": 11, "fontWeight": "bold", "baseline": "alphabetic", "dy": -5}, "encoding": {"y": {"field": "top", "type": "quantitative", "title": "Potenital value", "axis": {"values": [0, 2, 4, 6, 8], "format": "d"}}, "text": {"field": "l", "type": "nominal"}}},
                        {"data": {"values": [{}]}, "mark": {"type": "text", "fontSize": 11, "fontWeight": "bold", "dy": 2}, "encoding": {"x": {"datum": "W5"}, "y": {"datum": 8, "title": "Potenital value", "axis": {"values": [0, 2, 4, 6, 8], "format": "d"}}, "text": {"value": "Sourness"}}}
                      ]
                    }
                  ]
                }
              ]
            }
          ]
        }
      ]
    },
    {
      "spacing": 17,
      "resolve": {"scale": {"x": "independent", "y": "independent", "xOffset": "independent"}},
      "vconcat": [
        {
          "spacing": 0,
          "hconcat": [
            {"width": 0.01, "height": 0.01, "data": {"values": []}, "mark": "point"},
            {
              "spacing": 6,
              "resolve": {"scale": {"x": "independent", "y": "independent", "xOffset": "independent"}},
              "hconcat": [
                {
                  "spacing": 0,
                  "vconcat": [
                    {"width": 0.01, "height": 0.01, "data": {"values": []}, "mark": "point"},
                    {
                      "title": {"text": "D", "dx": -40, "offset": -5.5},
                      "width": 212.4, "height": 141,
                      "data": {"name": "dD"},
                      "encoding": {"x": {"field": "g", "type": "nominal", "title": null, "scale": {"paddingInner": 0.38, "paddingOuter": 0.39}}},
                      "layer": [
                        {"mark": {"type": "bar", "fill": "#55A1F4", "stroke": "#000", "strokeWidth": 2}, "encoding": {"y": {"aggregate": "mean", "field": "v", "type": "quantitative", "title": "Potenital value", "scale": {"domain": [0, 8], "nice": false}, "axis": {"values": [0, 2, 4, 6, 8], "format": "d"}}}},
                        {"mark": {"type": "errorbar", "extent": "stdev", "color": "#F5A3A8", "thickness": 1.5, "ticks": {"size": 7}}, "encoding": {"y": {"field": "v", "type": "quantitative", "title": "Potenital value", "axis": {"values": [0, 2, 4, 6, 8], "format": "d"}}}},
                        {"mark": {"type": "point", "filled": true, "size": 26, "color": "#F9A445", "opacity": 1}, "encoding": {"xOffset": {"field": "r", "type": "nominal"}, "y": {"field": "v", "type": "quantitative", "title": "Potenital value", "axis": {"values": [0, 2, 4, 6, 8], "format": "d"}}}},
                        {"transform": [{"aggregate": [{"op": "max", "field": "v", "as": "top"}], "groupby": ["g"]}, {"lookup": "g", "from": {"data": {"name": "lD"}, "key": "g", "fields": ["l"]}}],
                         "mark": {"type": "text", "fontSize": 11, "fontWeight": "bold", "baseline": "alphabetic", "dy": -5}, "encoding": {"y": {"field": "top", "type": "quantitative", "title": "Potenital value", "axis": {"values": [0, 2, 4, 6, 8], "format": "d"}}, "text": {"field": "l", "type": "nominal"}}},
                        {"data": {"values": [{}]}, "mark": {"type": "text", "fontSize": 11, "fontWeight": "bold", "dy": 2}, "encoding": {"x": {"datum": "W5"}, "y": {"datum": 8, "title": "Potenital value", "axis": {"values": [0, 2, 4, 6, 8], "format": "d"}}, "text": {"value": "Astringency"}}}
                      ]
                    }
                  ]
                },
                {
                  "spacing": 14.7,
                  "resolve": {"scale": {"x": "independent", "y": "independent", "xOffset": "independent"}},
                  "hconcat": [
                    {
                      "spacing": 0,
                      "vconcat": [
                        {"width": 0.01, "height": 0.01, "data": {"values": []}, "mark": "point"},
                        {
                          "title": {"text": "E", "dx": -26.3, "offset": -9.9},
                          "width": 214.3, "height": 142.3,
                          "data": {"name": "dE"},
                          "encoding": {"x": {"field": "g", "type": "nominal", "title": null, "scale": {"paddingInner": 0.38, "paddingOuter": 0.39}}},
                          "layer": [
                            {"mark": {"type": "bar", "fill": "#55A1F4", "stroke": "#000", "strokeWidth": 2}, "encoding": {"y": {"aggregate": "mean", "field": "v", "type": "quantitative", "title": "Potenital value", "scale": {"domain": [0, 4], "nice": false}, "axis": {"values": [0, 1, 2, 3, 4], "format": "d"}}}},
                            {"mark": {"type": "errorbar", "extent": "stdev", "color": "#F5A3A8", "thickness": 1.5, "ticks": {"size": 7}}, "encoding": {"y": {"field": "v", "type": "quantitative", "title": "Potenital value", "axis": {"values": [0, 1, 2, 3, 4], "format": "d"}}}},
                            {"mark": {"type": "point", "filled": true, "size": 26, "color": "#F9A445", "opacity": 1}, "encoding": {"xOffset": {"field": "r", "type": "nominal"}, "y": {"field": "v", "type": "quantitative", "title": "Potenital value", "axis": {"values": [0, 1, 2, 3, 4], "format": "d"}}}},
                            {"transform": [{"aggregate": [{"op": "max", "field": "v", "as": "top"}], "groupby": ["g"]}, {"lookup": "g", "from": {"data": {"name": "lE"}, "key": "g", "fields": ["l"]}}],
                             "mark": {"type": "text", "fontSize": 11, "fontWeight": "bold", "baseline": "alphabetic", "dy": -5}, "encoding": {"y": {"field": "top", "type": "quantitative", "title": "Potenital value", "axis": {"values": [0, 1, 2, 3, 4], "format": "d"}}, "text": {"field": "l", "type": "nominal"}}},
                            {"data": {"values": [{}]}, "mark": {"type": "text", "fontSize": 11, "fontWeight": "bold", "dy": 2}, "encoding": {"x": {"datum": "W5"}, "y": {"datum": 4, "title": "Potenital value", "axis": {"values": [0, 1, 2, 3, 4], "format": "d"}}, "text": {"value": "Bitterness"}}}
                          ]
                        }
                      ]
                    },
                    {
                      "spacing": 0,
                      "vconcat": [
                        {"width": 0.01, "height": 0.01, "data": {"values": []}, "mark": "point"},
                        {
                          "title": {"text": "F", "dx": -47.3, "offset": -7.8},
                          "width": 215.7, "height": 142.6,
                          "data": {"name": "dF"},
                          "encoding": {"x": {"field": "g", "type": "nominal", "title": null, "scale": {"paddingInner": 0.38, "paddingOuter": 0.39}}},
                          "layer": [
                            {"mark": {"type": "bar", "fill": "#55A1F4", "stroke": "#000", "strokeWidth": 2}, "encoding": {"y": {"aggregate": "mean", "field": "v", "type": "quantitative", "title": "Potenital value", "scale": {"domain": [0, 2.5], "nice": false}, "axis": {"values": [0, 0.5, 1, 1.5, 2, 2.5], "format": ".1f"}}}},
                            {"mark": {"type": "errorbar", "extent": "stdev", "color": "#F5A3A8", "thickness": 1.5, "ticks": {"size": 7}}, "encoding": {"y": {"field": "v", "type": "quantitative", "title": "Potenital value", "axis": {"values": [0, 0.5, 1, 1.5, 2, 2.5], "format": ".1f"}}}},
                            {"mark": {"type": "point", "filled": true, "size": 26, "color": "#F9A445", "opacity": 1}, "encoding": {"xOffset": {"field": "r", "type": "nominal"}, "y": {"field": "v", "type": "quantitative", "title": "Potenital value", "axis": {"values": [0, 0.5, 1, 1.5, 2, 2.5], "format": ".1f"}}}},
                            {"transform": [{"aggregate": [{"op": "max", "field": "v", "as": "top"}], "groupby": ["g"]}, {"lookup": "g", "from": {"data": {"name": "lF"}, "key": "g", "fields": ["l"]}}],
                             "mark": {"type": "text", "fontSize": 11, "fontWeight": "bold", "baseline": "alphabetic", "dy": -5}, "encoding": {"y": {"field": "top", "type": "quantitative", "title": "Potenital value", "axis": {"values": [0, 0.5, 1, 1.5, 2, 2.5], "format": ".1f"}}, "text": {"field": "l", "type": "nominal"}}},
                            {"data": {"values": [{}]}, "mark": {"type": "text", "fontSize": 11, "fontWeight": "bold", "dy": 2, "dx": -12.5}, "encoding": {"x": {"datum": "W5"}, "y": {"datum": 2.5, "title": "Potenital value", "axis": {"values": [0, 0.5, 1, 1.5, 2, 2.5], "format": ".1f"}}, "text": {"value": "Aftertaste-A"}}}
                          ]
                        }
                      ]
                    }
                  ]
                }
              ]
            }
          ]
        },
        {
          "spacing": 0,
          "hconcat": [
            {"width": 0.01, "height": 0.01, "data": {"values": []}, "mark": "point"},
            {
              "spacing": 18.4,
              "resolve": {"scale": {"x": "independent", "y": "independent", "xOffset": "independent"}},
              "hconcat": [
                {
                  "spacing": 0,
                  "vconcat": [
                    {"width": 0.01, "height": 0.01, "data": {"values": []}, "mark": "point"},
                    {
                      "title": {"text": "G", "dx": -39.6, "offset": -0.1},
                      "width": 199.75, "height": 134.3,
                      "data": {"name": "dG"},
                      "encoding": {"x": {"field": "g", "type": "nominal", "title": null, "scale": {"paddingInner": 0.38, "paddingOuter": 0.39}}},
                      "layer": [
                        {"mark": {"type": "bar", "fill": "#55A1F4", "stroke": "#000", "strokeWidth": 2}, "encoding": {"y": {"aggregate": "mean", "field": "v", "type": "quantitative", "title": "Potenital value", "scale": {"domain": [0, 1.5], "nice": false}, "axis": {"values": [0, 0.5, 1, 1.5], "format": ".1f"}}}},
                        {"mark": {"type": "errorbar", "extent": "stdev", "color": "#F5A3A8", "thickness": 1.5, "ticks": {"size": 7}}, "encoding": {"y": {"field": "v", "type": "quantitative", "title": "Potenital value", "axis": {"values": [0, 0.5, 1, 1.5], "format": ".1f"}}}},
                        {"mark": {"type": "point", "filled": true, "size": 26, "color": "#F9A445", "opacity": 1}, "encoding": {"xOffset": {"field": "r", "type": "nominal"}, "y": {"field": "v", "type": "quantitative", "title": "Potenital value", "axis": {"values": [0, 0.5, 1, 1.5], "format": ".1f"}}}},
                        {"transform": [{"aggregate": [{"op": "max", "field": "v", "as": "top"}], "groupby": ["g"]}, {"lookup": "g", "from": {"data": {"name": "lG"}, "key": "g", "fields": ["l"]}}],
                         "mark": {"type": "text", "fontSize": 11, "fontWeight": "bold", "baseline": "alphabetic", "dy": -5}, "encoding": {"y": {"field": "top", "type": "quantitative", "title": "Potenital value", "axis": {"values": [0, 0.5, 1, 1.5], "format": ".1f"}}, "text": {"field": "l", "type": "nominal"}}},
                        {"data": {"values": [{}]}, "mark": {"type": "text", "fontSize": 11, "fontWeight": "bold", "dy": 2}, "encoding": {"x": {"datum": "W5"}, "y": {"datum": 1.5, "title": "Potenital value", "axis": {"values": [0, 0.5, 1, 1.5], "format": ".1f"}}, "text": {"value": "Umami"}}}
                      ]
                    }
                  ]
                },
                {
                  "spacing": 14,
                  "resolve": {"scale": {"x": "independent", "y": "independent", "xOffset": "independent"}},
                  "hconcat": [
                    {
                      "spacing": 0,
                      "vconcat": [
                        {"width": 0.01, "height": 0.01, "data": {"values": []}, "mark": "point"},
                        {
                          "title": {"text": "H", "dx": -39.2, "offset": 0.2},
                          "width": 207.7, "height": 136.7,
                          "data": {"name": "dH"},
                          "encoding": {"x": {"field": "g", "type": "nominal", "title": null, "scale": {"paddingInner": 0.38, "paddingOuter": 0.39}}},
                          "layer": [
                            {"mark": {"type": "bar", "fill": "#55A1F4", "stroke": "#000", "strokeWidth": 2}, "encoding": {"y": {"aggregate": "mean", "field": "v", "type": "quantitative", "title": "Potenital value", "scale": {"domain": [0, 0.6], "nice": false}, "axis": {"values": [0, 0.2, 0.4, 0.6], "format": ".1f"}}}},
                            {"mark": {"type": "errorbar", "extent": "stdev", "color": "#F5A3A8", "thickness": 1.5, "ticks": {"size": 7}}, "encoding": {"y": {"field": "v", "type": "quantitative", "title": "Potenital value", "axis": {"values": [0, 0.2, 0.4, 0.6], "format": ".1f"}}}},
                            {"mark": {"type": "point", "filled": true, "size": 26, "color": "#F9A445", "opacity": 1}, "encoding": {"xOffset": {"field": "r", "type": "nominal"}, "y": {"field": "v", "type": "quantitative", "title": "Potenital value", "axis": {"values": [0, 0.2, 0.4, 0.6], "format": ".1f"}}}},
                            {"transform": [{"aggregate": [{"op": "max", "field": "v", "as": "top"}], "groupby": ["g"]}, {"lookup": "g", "from": {"data": {"name": "lH"}, "key": "g", "fields": ["l"]}}],
                             "mark": {"type": "text", "fontSize": 11, "fontWeight": "bold", "baseline": "alphabetic", "dy": -5}, "encoding": {"y": {"field": "top", "type": "quantitative", "title": "Potenital value", "axis": {"values": [0, 0.2, 0.4, 0.6], "format": ".1f"}}, "text": {"field": "l", "type": "nominal"}}},
                            {"data": {"values": [{}]}, "mark": {"type": "text", "fontSize": 11, "fontWeight": "bold", "dy": 2}, "encoding": {"x": {"datum": "W5"}, "y": {"datum": 0.6, "title": "Potenital value", "axis": {"values": [0, 0.2, 0.4, 0.6], "format": ".1f"}}, "text": {"value": "Richness"}}}
                          ]
                        }
                      ]
                    },
                    {
                      "spacing": 0,
                      "vconcat": [
                        {"width": 0.01, "height": 0.01, "data": {"values": []}, "mark": "point"},
                        {
                          "title": {"text": "I", "dx": -48.4, "offset": 8.8},
                          "width": 188, "height": 126.7,
                          "data": {"name": "dI"},
                          "encoding": {"x": {"field": "g", "type": "nominal", "title": null, "scale": {"paddingInner": 0.38, "paddingOuter": 0.39}}},
                          "layer": [
                            {"mark": {"type": "bar", "fill": "#55A1F4", "stroke": "#000", "strokeWidth": 2}, "encoding": {"y": {"aggregate": "mean", "field": "v", "type": "quantitative", "title": "Potenital value", "scale": {"domain": [0, 1], "nice": false}, "axis": {"values": [0, 0.2, 0.4, 0.6, 0.8, 1], "format": ".1f"}}}},
                            {"mark": {"type": "errorbar", "extent": "stdev", "color": "#F5A3A8", "thickness": 1.5, "ticks": {"size": 7}}, "encoding": {"y": {"field": "v", "type": "quantitative", "title": "Potenital value", "axis": {"values": [0, 0.2, 0.4, 0.6, 0.8, 1], "format": ".1f"}}}},
                            {"mark": {"type": "point", "filled": true, "size": 26, "color": "#F9A445", "opacity": 1}, "encoding": {"xOffset": {"field": "r", "type": "nominal"}, "y": {"field": "v", "type": "quantitative", "title": "Potenital value", "axis": {"values": [0, 0.2, 0.4, 0.6, 0.8, 1], "format": ".1f"}}}},
                            {"transform": [{"aggregate": [{"op": "max", "field": "v", "as": "top"}], "groupby": ["g"]}, {"lookup": "g", "from": {"data": {"name": "lI"}, "key": "g", "fields": ["l"]}}],
                             "mark": {"type": "text", "fontSize": 11, "fontWeight": "bold", "baseline": "alphabetic", "dy": -5}, "encoding": {"y": {"field": "top", "type": "quantitative", "title": "Potenital value", "axis": {"values": [0, 0.2, 0.4, 0.6, 0.8, 1], "format": ".1f"}}, "text": {"field": "l", "type": "nominal"}}},
                            {"data": {"values": [{}]}, "mark": {"type": "text", "fontSize": 11, "fontWeight": "bold", "dy": 2}, "encoding": {"x": {"datum": "W5"}, "y": {"datum": 1, "title": "Potenital value", "axis": {"values": [0, 0.2, 0.4, 0.6, 0.8, 1], "format": ".1f"}}, "text": {"value": "Saltiness"}}}
                          ]
                        }
                      ]
                    }
                  ]
                }
              ]
            }
          ]
        }
      ]
    }
  ]
}
